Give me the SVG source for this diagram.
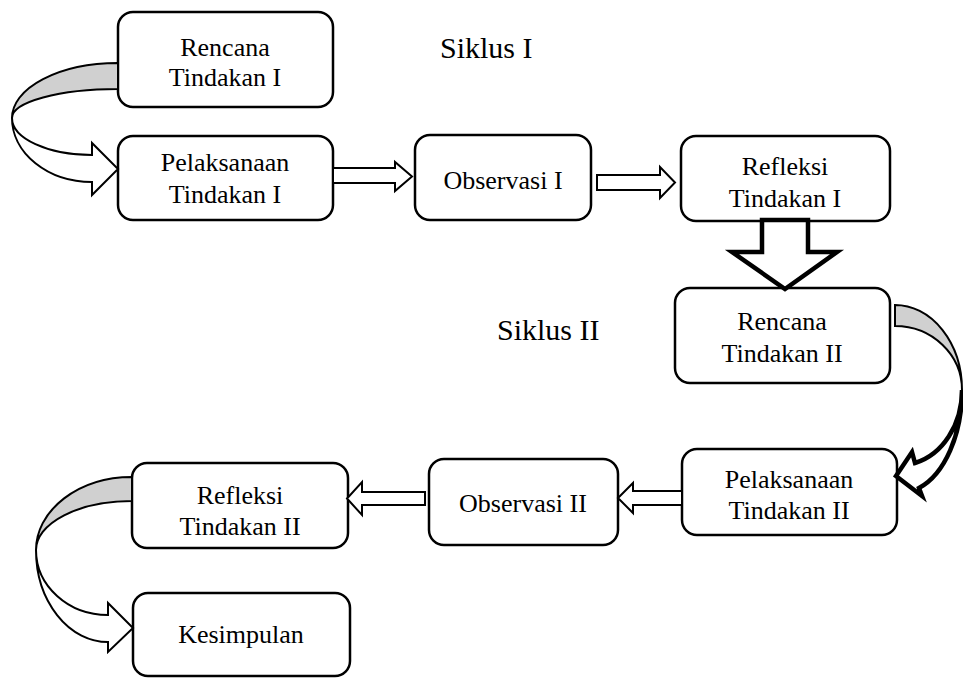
<svg xmlns="http://www.w3.org/2000/svg" width="963" height="678" viewBox="0 0 963 678">
<style>
.box{fill:#fff;stroke:#000;stroke-width:2.5}
.t{font-family:"Liberation Serif","Times New Roman",serif;font-size:26px;fill:#000;text-anchor:middle}
.big{font-family:"Liberation Serif","Times New Roman",serif;font-size:30px;fill:#000}
.arr{fill:#fff;stroke:#000;stroke-width:2;stroke-linejoin:miter}
.thick{stroke-width:4.5}
.back{fill:#d0d0d0;stroke:#000;stroke-width:2}
</style>
<rect width="963" height="678" fill="#fff"/>
<text class="big" x="440" y="58">Siklus I</text>
<text class="big" x="497" y="340">Siklus II</text>
<g id="rencana1"><rect class="box" x="118" y="12" width="215" height="95" rx="15"/><text class="t" x="225" y="56">Rencana</text><text class="t" x="225" y="86">Tindakan I</text></g>
<g id="pelaksanaan1"><rect class="box" x="118" y="136" width="215" height="84" rx="15"/><text class="t" x="225" y="171">Pelaksanaan</text><text class="t" x="225" y="203">Tindakan I</text></g>
<g id="observasi1"><rect class="box" x="415" y="135" width="176" height="85" rx="15"/><text class="t" x="503" y="189">Observasi I</text></g>
<g id="refleksi1"><rect class="box" x="681" y="136" width="209" height="85" rx="15"/><text class="t" x="785" y="175">Refleksi</text><text class="t" x="785" y="207">Tindakan I</text></g>
<g id="rencana2"><rect class="box" x="675" y="288" width="215" height="95" rx="15"/><text class="t" x="782" y="330">Rencana</text><text class="t" x="782" y="362">Tindakan II</text></g>
<g id="pelaksanaan2"><rect class="box" x="682" y="449" width="215" height="86" rx="15"/><text class="t" x="789" y="488">Pelaksanaan</text><text class="t" x="789" y="519">Tindakan II</text></g>
<g id="observasi2"><rect class="box" x="429" y="459" width="189" height="86" rx="15"/><text class="t" x="523" y="512">Observasi II</text></g>
<g id="refleksi2"><rect class="box" x="132" y="463" width="216" height="85" rx="15"/><text class="t" x="240" y="504">Refleksi</text><text class="t" x="240" y="535">Tindakan II</text></g>
<g id="kesimpulan"><rect class="box" x="133" y="593" width="217" height="83" rx="15"/><text class="t" x="241" y="643">Kesimpulan</text></g>
<g id="connectors">
<path class="back" d="M118,63 A106,55 0 0 0 12,118 A106,29 0 0 1 118,89 Z"/>
<path class="arr" d="M12,118 A80,64 0 0 0 92,182 L92,195 L118,169 L92,143 L92,155 A80,37 0 0 1 12,118 Z"/>
<polygon class="arr" points="333,168 395,168 395,162 412,176.5 395,191 395,183 333,183"/>
<polygon class="arr" points="597,175 660,175 660,167 675,182.5 660,198 660,190 597,190"/>
<polygon class="arr thick" points="762,220 808,220 808,252 837,252 785,289 732,252 762,252"/>
<path class="back thick" d="M895,305 A67,85 0 0 1 962,390 A67,64 0 0 0 895,326 Z"/>
<path class="arr thick" d="M962,390 A62,103 0 0 1 919,488 L922,496 L896,476 L912,452 L915,463 A62,75 0 0 0 962,390 Z"/>
<polygon class="arr" points="682,491 633,491 633,483 618,498 633,513 633,505 682,505"/>
<polygon class="arr" points="425,492 362,492 362,482 347,498.5 362,515 362,505 425,505"/>
<path class="back" d="M132,477 A96,73 0 0 0 36,550 A96,49 0 0 1 132,501 Z"/>
<path class="arr" d="M36,550 A72,92 0 0 0 108,642 L108,652 L133,628 L108,603 L108,615 A72,65 0 0 1 36,550 Z"/>
</g>
</svg>
